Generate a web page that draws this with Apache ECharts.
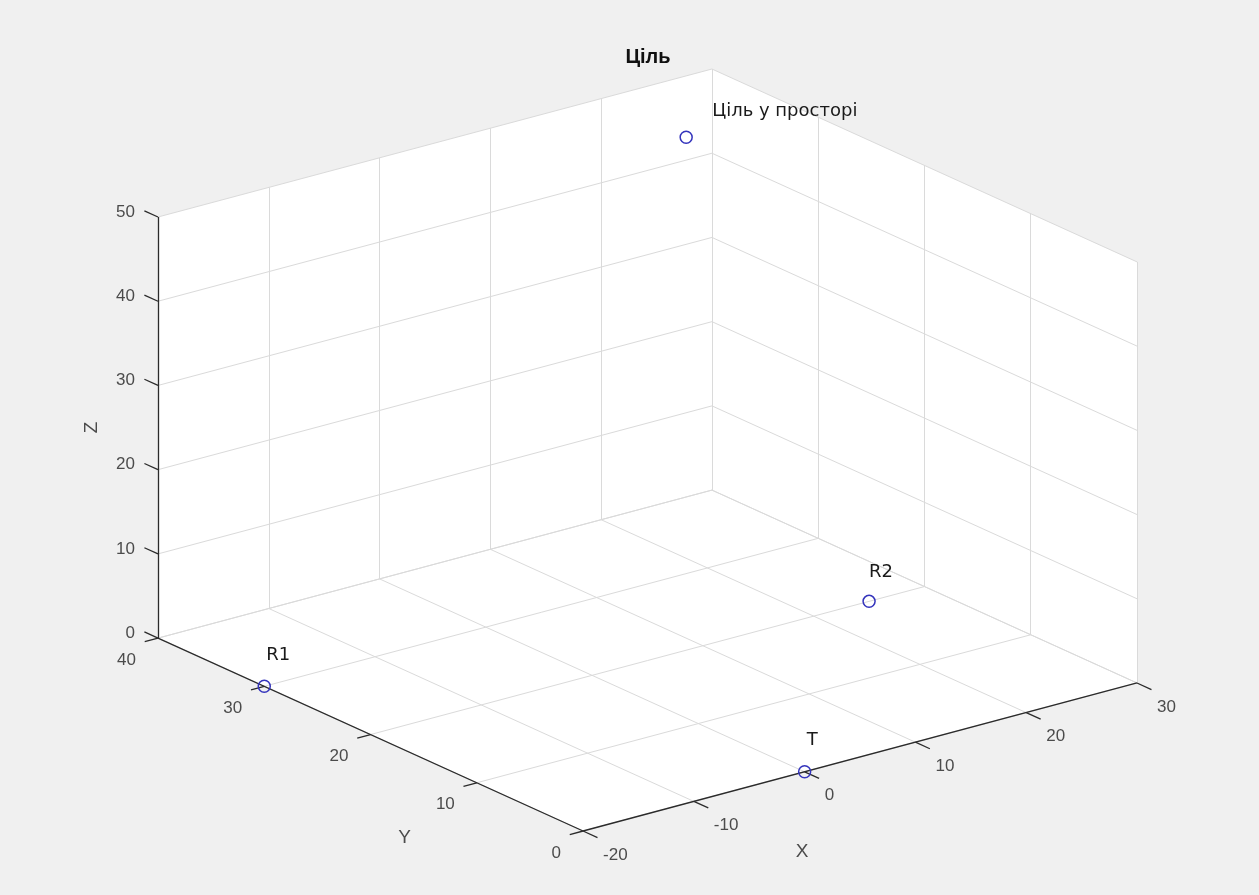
<!DOCTYPE html>
<html>
<head>
<meta charset="utf-8">
<script src="https://cdn.jsdelivr.net/npm/echarts@6/dist/echarts.min.js"></script>
<style>
  html, body { margin: 0; padding: 0; background: #f0f0f0; }
  #chart { width: 1259px; height: 895px; }
</style>
</head>
<body>
<div id="chart"></div>
<script>
// Axis ticks of the 3-D box
const xTicks = [-20, -10, 0, 10, 20, 30];
const yTicks = [0, 10, 20, 30, 40];
const zTicks = [0, 10, 20, 30, 40, 50];

// Plotted points (x, y, z) and their text labels
const pointNames = ['T', 'R1', 'R2', 'Ціль у просторі'];
const pointX = [0, -20, 25, 20];
const pointY = [0, 30, 20, 32];
const pointZ = [0, 0, 0, 50];

const titleText = 'Ціль';
const axisNames = ['X', 'Y', 'Z'];

const xMin = xTicks[0], xMax = xTicks[xTicks.length - 1];
const yMin = yTicks[0], yMax = yTicks[yTicks.length - 1];
const zMin = zTicks[0], zMax = zTicks[zTicks.length - 1];

// Orthographic view: azimuth -37.5°, elevation 30°, unit plot box
const AZ = 37.5 * Math.PI / 180, EL = 30 * Math.PI / 180;
function proj(x, y, z) {
  const u = (x - xMin) / (xMax - xMin);
  const v = (y - yMin) / (yMax - yMin);
  const w = (z - zMin) / (zMax - zMin);
  return [
    u * Math.cos(AZ) - v * Math.sin(AZ),
    Math.sin(EL) * (u * Math.sin(AZ) + v * Math.cos(AZ)) + w * Math.cos(EL)
  ];
}
const pxMin = proj(xMin, yMax, zMin)[0];
const pxMax = proj(xMax, yMin, zMin)[0];
const pyMin = 0;
const pyMax = proj(xMax, yMax, zMax)[1];

function seg(a, b) { return { coords: [proj(...a), proj(...b)] }; }

// Back walls and floor grid
const gridSegs = [];
xTicks.forEach(x => {
  gridSegs.push(seg([x, yMin, zMin], [x, yMax, zMin]));
  gridSegs.push(seg([x, yMax, zMin], [x, yMax, zMax]));
});
yTicks.forEach(y => {
  gridSegs.push(seg([xMin, y, zMin], [xMax, y, zMin]));
  gridSegs.push(seg([xMax, y, zMin], [xMax, y, zMax]));
});
zTicks.forEach(z => {
  gridSegs.push(seg([xMin, yMax, z], [xMax, yMax, z]));
  gridSegs.push(seg([xMax, yMin, z], [xMax, yMax, z]));
});

// Axis lines and tick marks
const axisSegs = [
  seg([xMin, yMin, zMin], [xMax, yMin, zMin]),
  seg([xMin, yMin, zMin], [xMin, yMax, zMin]),
  seg([xMin, yMax, zMin], [xMin, yMax, zMax])
];
const xr = xMax - xMin, yr = yMax - yMin;
xTicks.forEach(x => axisSegs.push(seg([x, yMin, zMin], [x, yMin - 0.034 * yr, zMin])));
yTicks.forEach(y => axisSegs.push(seg([xMin, y, zMin], [xMin - 0.024 * xr, y, zMin])));
zTicks.forEach(z => axisSegs.push(seg([xMin, yMax, z], [xMin, yMax + 0.032 * yr, z])));

// Outline of the visible box area (filled white)
const boxOutline = [
  [xMin, yMin, zMin], [xMin, yMax, zMin], [xMin, yMax, zMax],
  [xMax, yMax, zMax], [xMax, yMin, zMax], [xMax, yMin, zMin]
].map(p => proj(...p));

const FONT = '"Liberation Sans", Arial, Helvetica, sans-serif';
const TXT = '#222222';

function tickLabelSeries(points, texts, align, offset) {
  return {
    type: 'scatter', silent: true, z: 6,
    symbol: 'circle', symbolSize: 1,
    itemStyle: { color: 'transparent' },
    data: points.map((p, i) => ({ value: p, name: texts[i] })),
    label: {
      show: true, position: 'inside', formatter: '{b}',
      align: align, verticalAlign: 'middle', offset: offset,
      fontFamily: FONT, fontSize: 17, color: TXT
    }
  };
}

const xLabelPts = xTicks.map(x => proj(x, yMin, zMin));
const yLabelPts = yTicks.map(y => proj(xMin, y, zMin));
const zLabelPts = zTicks.map(z => proj(xMin, yMax, z));

const xMid = proj((xMin + xMax) / 2, yMin, zMin);
const yMid = proj(xMin, (yMin + yMax) / 2, zMin);
const zMid = proj(xMin, yMax, (zMin + zMax) / 2);

// label offsets for each point's text
const pointLabelOffsets = [[2, -31], [2, -31], [0, -29], [26, -26]];

const chart = echarts.init(document.getElementById('chart'), null, { renderer: 'canvas' });
chart.setOption({
  animation: false,
  backgroundColor: '#f0f0f0',
  title: {
    text: titleText, left: 643, top: 42, textAlign: 'center',
    textStyle: { fontFamily: FONT, fontSize: 20, fontWeight: 'bold', color: '#111' }
  },
  grid: { left: 158, right: 122, top: 69, bottom: 64, containLabel: false },
  xAxis: { type: 'value', min: pxMin, max: pxMax, show: false },
  yAxis: { type: 'value', min: pyMin, max: pyMax, show: false },
  series: [
    {
      type: 'custom', silent: true, z: 1, clip: false,
      data: [0],
      renderItem: function (params, api) {
        return {
          type: 'polygon',
          shape: { points: boxOutline.map(p => api.coord(p)) },
          style: { fill: '#ffffff' }
        };
      }
    },
    {
      type: 'lines', coordinateSystem: 'cartesian2d', silent: true, z: 2, clip: false,
      lineStyle: { color: '#dadada', width: 1, opacity: 1 },
      data: gridSegs
    },
    {
      type: 'lines', coordinateSystem: 'cartesian2d', silent: true, z: 3, clip: false,
      lineStyle: { color: '#2b2b2b', width: 1.3, opacity: 1 },
      data: axisSegs
    },
    {
      type: 'scatter', silent: true, z: 5, clip: false,
      symbol: 'circle', symbolSize: 12,
      itemStyle: { color: 'rgba(0,0,0,0)', borderColor: '#3434bc', borderWidth: 1.5, opacity: 1 },
      data: pointNames.map((n, i) => ({
        name: n,
        value: proj(pointX[i], pointY[i], pointZ[i]),
        label: { offset: pointLabelOffsets[i] }
      })),
      label: {
        show: true, position: 'inside', formatter: '{b}',
        align: 'left', verticalAlign: 'middle',
        fontFamily: '"DejaVu Sans", sans-serif', fontSize: 18, color: '#1a1a1a'
      }
    },
    tickLabelSeries(xLabelPts, xTicks.map(String), 'left', [20, 24]),
    tickLabelSeries(yLabelPts, yTicks.map(String), 'right', [-22, 22]),
    tickLabelSeries(zLabelPts, zTicks.map(String), 'right', [-23, -5]),
    {
      type: 'scatter', silent: true, z: 6, clip: false,
      symbol: 'circle', symbolSize: 1,
      itemStyle: { color: 'transparent' },
      data: [
        { value: xMid, name: axisNames[0], label: { offset: [-58, 95] } },
        { value: yMid, name: axisNames[1], label: { offset: [34, 103] } },
        { value: zMid, name: axisNames[2], label: { offset: [0, -66], rotate: 90 } }
      ],
      label: {
        show: true, position: 'inside', formatter: '{b}',
        align: 'center', verticalAlign: 'middle',
        fontFamily: FONT, fontSize: 19, color: TXT
      }
    }
  ]
});
</script>
</body>
</html>
